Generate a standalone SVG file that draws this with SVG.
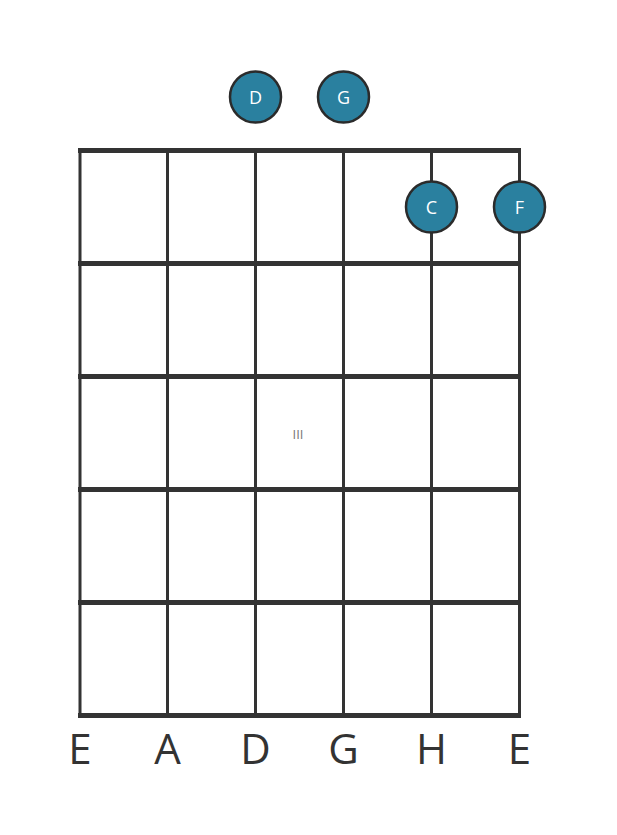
<svg xmlns="http://www.w3.org/2000/svg" width="617" height="835" viewBox="0 0 617 835">
<style>
.fret{stroke:#333;stroke-width:5;stroke-linecap:butt}
.str{stroke:#333;stroke-width:3}
.dot circle{fill:#2a809f;stroke:#2b2b2b;stroke-width:2.5}
.dot text{fill:#fff;font-family:"Open Sans",sans-serif;font-size:18px;text-anchor:middle}
.lbl{fill:#333;font-family:"Open Sans",sans-serif;font-size:42px;text-anchor:middle}
</style>
<rect width="617" height="835" fill="#fff"/>
<g id="grid">
<line class="str" x1="80" y1="151" x2="80" y2="716"/>
<line class="str" x1="167.5" y1="151" x2="167.5" y2="716"/>
<line class="str" x1="255.5" y1="151" x2="255.5" y2="716"/>
<line class="str" x1="343.5" y1="151" x2="343.5" y2="716"/>
<line class="str" x1="431.5" y1="151" x2="431.5" y2="716"/>
<line class="str" x1="519.5" y1="151" x2="519.5" y2="716"/>
<line class="fret" x1="78" y1="150.5" x2="521" y2="150.5"/>
<line class="fret" x1="78" y1="263.5" x2="521" y2="263.5"/>
<line class="fret" x1="78" y1="376.5" x2="521" y2="376.5"/>
<line class="fret" x1="78" y1="489.5" x2="521" y2="489.5"/>
<line class="fret" x1="78" y1="602.5" x2="521" y2="602.5"/>
<line class="fret" x1="78" y1="715.5" x2="521" y2="715.5"/>
</g>
<text id="position" x="298" y="439" font-family="'Open Sans',sans-serif" font-size="13" fill="#777" text-anchor="middle">III</text>
<g id="note-D" class="dot"><circle cx="255.5" cy="97" r="25.5"/><text x="255.5" y="103.5">D</text></g>
<g id="note-G" class="dot"><circle cx="343.5" cy="97" r="25.5"/><text x="343.5" y="103.5">G</text></g>
<g id="note-C" class="dot"><circle cx="431.5" cy="207" r="25.5"/><text x="431.5" y="213.5">C</text></g>
<g id="note-F" class="dot"><circle cx="519.5" cy="207" r="25.5"/><text x="519.5" y="213.5">F</text></g>
<g id="labels">
<text class="lbl" x="80" y="764">E</text>
<text class="lbl" x="167.5" y="764">A</text>
<text class="lbl" x="255.5" y="764">D</text>
<text class="lbl" x="343.5" y="764">G</text>
<text class="lbl" x="431.5" y="764">H</text>
<text class="lbl" x="519.5" y="764">E</text>
</g>
</svg>
